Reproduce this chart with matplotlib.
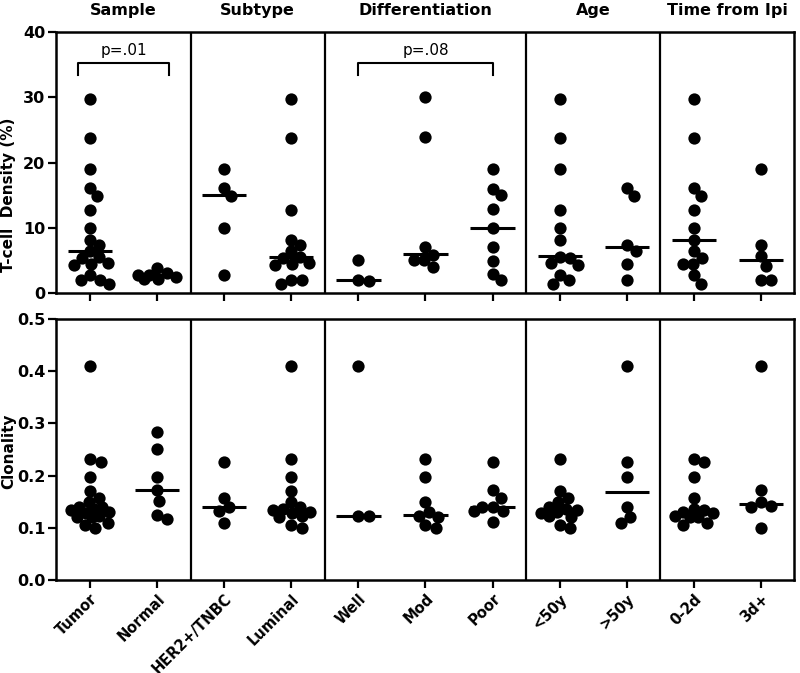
import numpy as np
import matplotlib
matplotlib.use("Agg")
import matplotlib.pyplot as plt

# ---------------------------------------------------------------
# Data
# ---------------------------------------------------------------
categories = ["Tumor", "Normal", "HER2+/TNBC", "Luminal", "Well", "Mod",
              "Poor", "<50y", ">50y", "0-2d", "3d+"]
sections = ["Sample", "Subtype", "Differentiation", "Age", "Time from Ipi"]
section_sizes = [2, 2, 3, 2, 2]

# T-cell density (%)
density = [
    [29.7, 23.8, 19.0, 16.1, 14.9, 12.7, 9.9, 8.2, 7.3, 6.4, 5.5, 5.4, 4.6,
     4.5, 4.25, 2.7, 1.95, 1.95, 1.45],
    [3.8, 3.0, 2.8, 2.7, 2.5, 2.2, 2.1],
    [19.0, 16.1, 14.9, 9.9, 2.7],
    [29.7, 23.8, 12.7, 8.2, 7.3, 6.4, 5.5, 5.4, 4.6, 4.5, 4.25, 1.95, 1.95, 1.45],
    [5.0, 2.0, 1.9],
    [30.0, 23.9, 7.0, 5.9, 5.0, 5.0, 4.0],
    [19.0, 16.0, 15.0, 12.9, 9.9, 7.0, 4.9, 2.9, 1.95],
    [29.7, 23.8, 19.0, 12.7, 9.9, 8.2, 5.5, 5.4, 4.6, 4.25, 2.7, 1.95, 1.45],
    [16.1, 14.9, 7.3, 6.4, 4.5, 1.95],
    [29.7, 23.8, 16.1, 14.9, 12.7, 9.9, 8.2, 6.4, 5.4, 4.5, 4.5, 2.7, 1.45],
    [19.0, 7.3, 5.6, 4.15, 1.95, 1.95],
]
density_median = [6.5, 2.7, 15.0, 5.5, 2.0, 6.0, 10.0, 5.7, 7.0, 8.2, 5.0]

# Clonality
clonality = [
    [0.410, 0.232, 0.227, 0.197, 0.171, 0.158, 0.150, 0.140, 0.139, 0.136,
     0.134, 0.130, 0.128, 0.123, 0.121, 0.120, 0.110, 0.105, 0.099],
    [0.284, 0.250, 0.197, 0.172, 0.152, 0.125, 0.116],
    [0.227, 0.158, 0.140, 0.133, 0.110],
    [0.410, 0.232, 0.197, 0.171, 0.150, 0.139, 0.136, 0.134, 0.130, 0.128,
     0.123, 0.121, 0.105, 0.099],
    [0.410, 0.123, 0.122],
    [0.232, 0.198, 0.150, 0.131, 0.123, 0.121, 0.105, 0.099],
    [0.227, 0.172, 0.158, 0.140, 0.140, 0.133, 0.133, 0.112],
    [0.232, 0.171, 0.158, 0.150, 0.140, 0.136, 0.134, 0.130, 0.128, 0.123,
     0.121, 0.105, 0.099],
    [0.410, 0.227, 0.197, 0.139, 0.120, 0.110],
    [0.232, 0.227, 0.197, 0.158, 0.136, 0.134, 0.130, 0.128, 0.123, 0.121,
     0.120, 0.110, 0.105],
    [0.410, 0.172, 0.150, 0.142, 0.140, 0.099],
]
clonality_median = [0.134, 0.172, 0.140, 0.132, 0.123, 0.125, 0.140, 0.134,
                    0.169, 0.128, 0.146]

# comparisons: (first category, last category, label)
brackets = [(0, 1, "p=.01"), (4, 6, "p=.08")]

# ---------------------------------------------------------------
# Figure geometry
# ---------------------------------------------------------------
W, H, DPI = 8.0, 6.73, 100
AX_LEFT, AX_W, AX_H = 0.0706, 0.9225, 0.3878
fig = plt.figure(figsize=(W, H), dpi=DPI)
ax_top = fig.add_axes([AX_LEFT, 0.5646, AX_W, AX_H])
ax_bot = fig.add_axes([AX_LEFT, 0.1382, AX_W, AX_H])

DOT_S = 78          # marker area (pt^2), about 12 px wide
DOT_D = 10.5        # wanted distance between dot centres (px)
MAX_W = 19.0        # max horizontal spread from the centre (px)


def swarm(values, px_x, px_y, d=DOT_D, lim=MAX_W):
    """Offsets (data units of x), dots spread side by side within +-lim px"""
    vals = np.asarray(values, dtype=float)
    ys = vals * px_y
    xs = np.zeros(len(vals))
    grid = np.arange(-lim, lim + 0.01, 0.5)
    grid = grid[np.lexsort((-grid, np.abs(grid)))]
    placed = []
    for i in np.argsort(-vals, kind="stable"):
        if not placed:
            placed.append(i)
            continue
        px = xs[placed]
        py = ys[placed]
        dist = np.sqrt((grid[:, None] - px[None, :]) ** 2
                       + (ys[i] - py[None, :]) ** 2).min(axis=1)
        ok = np.where(dist >= d - 1e-6)[0]
        if len(ok):
            xs[i] = grid[ok[0]]
        else:
            xs[i] = grid[np.argmax(dist)]
        placed.append(i)
    return xs / px_x


def draw_panel(ax, data, medians, ymax, yticks, fmt):
    n = len(categories)
    ax.set_xlim(-0.5, n - 0.5)
    ax.set_ylim(0, ymax)
    px_x = AX_W * W * DPI / n
    px_y = AX_H * H * DPI / ymax
    for k, vals in enumerate(data):
        off = swarm(vals, px_x, px_y)
        ax.scatter(k + off, vals, s=DOT_S, color="black", linewidths=0,
                   zorder=3)
        ax.plot([k - 0.33, k + 0.33], [medians[k], medians[k]],
                color="black", lw=2.2, zorder=4, solid_capstyle="butt")
    # section separators
    for b in np.cumsum(section_sizes)[:-1]:
        ax.axvline(b - 0.5, color="black", lw=1.6)
    for sp in ax.spines.values():
        sp.set_linewidth(1.8)
    ax.set_xticks(range(n))
    ax.set_yticks(yticks)
    ax.set_yticklabels([fmt % t for t in yticks], fontweight="bold",
                       fontsize=11.5)
    ax.tick_params(direction="out", length=6, width=1.6, pad=2)


draw_panel(ax_top, density, density_median, 40, [0, 10, 20, 30, 40], "%d")
draw_panel(ax_bot, clonality, clonality_median, 0.5,
           [0.0, 0.1, 0.2, 0.3, 0.4, 0.5], "%.1f")

ax_top.set_xticklabels([])
ax_bot.set_xticklabels(categories, rotation=45, ha="right",
                       rotation_mode="anchor", fontweight="bold", fontsize=10.5)

ax_top.set_ylabel("T-cell  Density (%)", fontweight="bold", fontsize=11)
ax_top.yaxis.set_label_coords(-0.055, 0.375)
ax_bot.set_ylabel("Clonality", fontweight="bold", fontsize=11)
ax_bot.yaxis.set_label_coords(-0.055, 0.494)

# section titles
start = 0
for name, size in zip(sections, section_sizes):
    xc = start - 0.5 + size / 2
    ax_top.text(xc, 1.084, name, transform=ax_top.get_xaxis_transform(),
                ha="center", va="center", fontweight="bold", fontsize=11.5)
    start += size

# significance brackets
for a, b, lab in brackets:
    if b - a == 1:
        x0, x1 = a - 0.18, b + 0.18
    else:
        x0, x1 = a, b
    ax_top.plot([x0, x0, x1, x1], [33.4, 35.2, 35.2, 33.4], color="black",
                lw=1.5, clip_on=False)
    ax_top.text((x0 + x1) / 2, 37.2, lab, ha="center", va="center",
                fontsize=11)

plt.savefig("out.png", dpi=DPI)
